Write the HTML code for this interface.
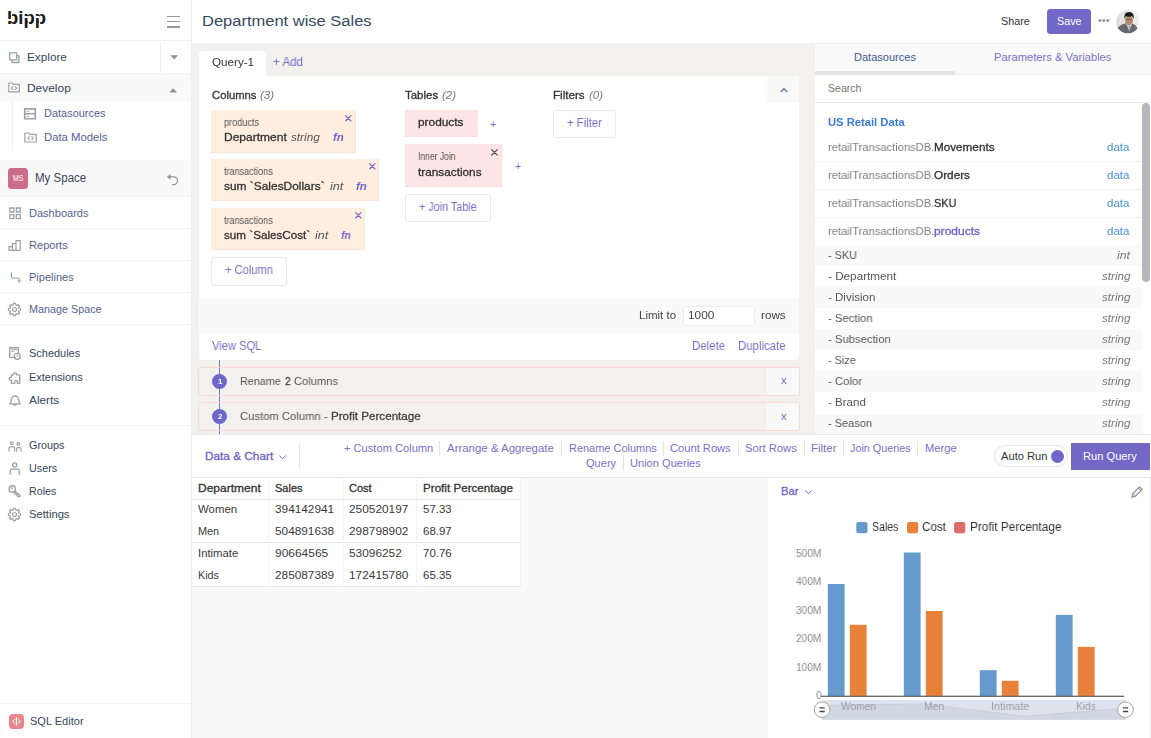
<!DOCTYPE html>
<html lang="en"><head><meta charset="utf-8"><title>Department wise Sales - bipp</title>
<style>
html,body{margin:0;padding:0;}
body{width:1151px;height:738px;overflow:hidden;background:#fff;font-family:"Liberation Sans",Arial,Helvetica,sans-serif;font-size:12px;color:#333;}
#app{position:relative;width:1151px;height:738px;overflow:hidden;background:#fff;}
.a{position:absolute;box-sizing:border-box;}
.t{position:absolute;white-space:pre;display:block;transform-origin:0 50%;}
svg{position:absolute;overflow:visible;}
i.m{display:inline-block;width:0;height:0;vertical-align:baseline;}
.g{will-change:transform;}

</style></head>
<body>
<div id="app">
<div class="a" style="left:191.6px;top:0px;width:959.4px;height:44px;background:#fff;border-bottom:1px solid #eef0f3;"></div>
<div class="a" style="left:191.6px;top:44px;width:623.4px;height:391px;background:#f2f1ee;"></div>
<div class="a" style="left:814.4px;top:44px;width:336.6px;height:391px;background:#fff;border-left:1px solid #eceeef;"></div>
<div class="a" style="left:191.6px;top:434px;width:959.4px;height:44px;background:#fff;border-top:1px solid #e9e9e9;border-bottom:1px solid #e4e4e4;"></div>
<div class="a" style="left:191.6px;top:478px;width:576.4px;height:260px;background:#f9f9f9;"></div>
<div class="a" style="left:767.7px;top:478px;width:382.3px;height:260px;background:#fff;"></div>
<div class="a" style="left:1150px;top:478px;width:1px;height:260px;background:#eceef2;"></div>
<div class="a" style="left:0px;top:0px;width:191.6px;height:738px;background:#fff;border-right:1px solid #eceef2;"></div>
<div class="a" style="left:0px;top:40px;width:190.6px;height:1px;background:#eef0f2;"></div>
<div class="a" style="left:160px;top:42px;width:1px;height:31px;background:#eceef0;"></div>
<div class="a" style="left:0px;top:73px;width:190.6px;height:1px;background:#f3f3f3;"></div>
<div class="a" style="left:0px;top:73.5px;width:190.6px;height:27.5px;background:#f9f9f9;"></div>
<div class="a" style="left:12px;top:102px;width:1px;height:49px;background:#efeff3;"></div>
<div class="a" style="left:0px;top:160px;width:190.6px;height:36.5px;background:#f9f9f9;border-bottom:1px solid #f1f1f1;"></div>
<div class="a" style="left:0px;top:228px;width:190.6px;height:1px;background:#f4f4f4;"></div>
<div class="a" style="left:0px;top:260px;width:190.6px;height:1px;background:#f4f4f4;"></div>
<div class="a" style="left:0px;top:292px;width:190.6px;height:1px;background:#f4f4f4;"></div>
<div class="a" style="left:0px;top:324px;width:190.6px;height:1px;background:#f4f4f4;"></div>
<div class="a" style="left:0px;top:425px;width:190.6px;height:1px;background:#f4f4f4;"></div>
<div class="a" style="left:0px;top:702.5px;width:190.6px;height:1px;background:#f4f4f4;"></div>
<div class="a" style="left:166.8px;top:15.6px;width:13.2px;height:1.6px;background:#8f999f;"></div>
<div class="a" style="left:166.8px;top:20.8px;width:13.2px;height:1.6px;background:#8f999f;"></div>
<div class="a" style="left:166.8px;top:26px;width:13.2px;height:1.6px;background:#8f999f;"></div>
<svg style="left:170px;top:55px" width="9" height="5" viewBox="0 0 9 5"><path d="M0.3 0.2h7.8L4.2 4.4z" fill="#8a949a"/></svg>
<svg style="left:169px;top:87.5px" width="9" height="5" viewBox="0 0 9 5"><path d="M0.3 4.4h7.8L4.2 0.2z" fill="#8a949a"/></svg>
<svg style="left:8px;top:51px" width="12" height="12" viewBox="0 0 12 12" fill="none" stroke="#9ca4a9" stroke-width="1.35" stroke-linecap="round" stroke-linejoin="round"><path d="M1.6 1.8h7v7h-7z" stroke-linejoin="miter"/><path d="M4.2 9v2.5h6.6v-6.8H8.8" stroke-linejoin="miter"/></svg>
<svg style="left:8px;top:82px" width="12" height="11" viewBox="0 0 12 11" fill="none" stroke="#9ca4a9" stroke-width="1.2" stroke-linecap="round" stroke-linejoin="round"><path d="M0.8 1h3.6l1 1.4h5.9v7.4H0.8z" stroke-linejoin="miter"/><path d="M4.9 4.6L3.5 6.1l1.4 1.5M7.2 4.6l1.4 1.5-1.4 1.5" stroke-width="1.15"/></svg>
<svg style="left:24px;top:108px" width="12" height="12" viewBox="0 0 12 12" fill="none" stroke="#9ca4a9" stroke-width="1.35" stroke-linecap="round" stroke-linejoin="round"><path d="M0.7 0.9h10.6v4.9H0.7zM0.7 5.8h10.6v5H0.7z" stroke-linejoin="miter" stroke-width="1.6"/><path d="M2.6 3.3h0.6M4.3 3.3h0.6M2.6 8.3h0.6M4.3 8.3h0.6" stroke-width="0.9"/></svg>
<svg style="left:23.6px;top:132.3px" width="13" height="11" viewBox="0 0 13 11" fill="none" stroke="#9ca4a9" stroke-width="1.2" stroke-linecap="round" stroke-linejoin="round"><path d="M0.8 1h3.9l1 1.4h6.5v7.6H0.8z" stroke-linejoin="miter"/><path d="M5.3 4.7L3.9 6.2l1.4 1.5M7.8 4.7l1.4 1.5-1.4 1.5" stroke-width="1.15"/></svg>
<div class="a" style="left:7.8px;top:168.3px;width:20.4px;height:21px;background:#cb6c88;border-radius:3.5px;"></div>
<svg style="left:166px;top:173px" width="13" height="13" viewBox="0 0 13 13" fill="none" stroke="#8a949a" stroke-width="1.2" stroke-linecap="round" stroke-linejoin="round"><path d="M2 3.9h5.6a3.9 3.9 0 0 1 0 7.8H6.6" stroke-width="1.2"/><path d="M3.9 1.8L1.6 3.9l2.3 2.1z" fill="#8a949a" stroke="#8a949a" stroke-width="0.8"/></svg>
<svg style="left:9px;top:207px" width="12" height="12" viewBox="0 0 12 12" fill="none" stroke="#9ca4a9" stroke-width="1.35" stroke-linecap="round" stroke-linejoin="round"><path d="M0.8 1h4v4h-4zM7.3 1h4v4h-4zM0.8 7.6h4v4h-4zM7.3 7.6h4v4h-4z" stroke-linejoin="miter" stroke-width="1.3"/></svg>
<svg style="left:8px;top:240px" width="13" height="11" viewBox="0 0 13 11" fill="none" stroke="#9ca4a9" stroke-width="1.35" stroke-linecap="round" stroke-linejoin="round"><path d="M1 6.6h3.4v3.8H1zM4.4 3.6h3.6v6.8H4.4zM8 0.7h4.2v9.7H8z" stroke-linejoin="miter" stroke-width="1.2"/></svg>
<svg style="left:9.5px;top:271.5px" width="11" height="11" viewBox="0 0 11 11" fill="none" stroke="#9ca4a9" stroke-width="1.2" stroke-linecap="round" stroke-linejoin="round"><path d="M1.4 0.8v3.6q0 1.6 1.6 1.6h4.6q1.6 0 1.6 1.6v2.4"/><path d="M7.8 8.6l1.4 1.6 1.3-1.6" stroke-width="0.9"/></svg>
<svg style="left:8.1px;top:302.8px" width="13" height="13" viewBox="0 0 13 13" fill="none" stroke="#9ca4a9" stroke-width="1.35" stroke-linecap="round" stroke-linejoin="round"><path d="M11.02 5.22L12.52 5.50L12.52 7.50L11.02 7.78L10.60 8.80L11.46 10.05L10.05 11.46L8.80 10.60L7.78 11.02L7.50 12.52L5.50 12.52L5.22 11.02L4.20 10.60L2.95 11.46L1.54 10.05L2.40 8.80L1.98 7.78L0.48 7.50L0.48 5.50L1.98 5.22L2.40 4.20L1.54 2.95L2.95 1.54L4.20 2.40L5.22 1.98L5.50 0.48L7.50 0.48L7.78 1.98L8.80 2.40L10.05 1.54L11.46 2.95L10.60 4.20z" stroke-width="1.25"/><circle cx="6.5" cy="6.5" r="2" stroke-width="1.2"/></svg>
<svg style="left:9px;top:347px" width="12" height="13" viewBox="0 0 12 13" fill="none" stroke="#9ca4a9" stroke-width="1.35" stroke-linecap="round" stroke-linejoin="round"><path d="M6.2 10.4H0.7V0.7h8.6v5" stroke-linejoin="miter"/><path d="M2.3 2.6h5.4M2.3 4.3h3" stroke-width="0.9"/><circle cx="8.2" cy="9.3" r="3"/><path d="M8.2 7.9v1.5h1.1" stroke-width="0.8"/></svg>
<svg style="left:8.2px;top:371px" width="13" height="13" viewBox="0 0 13 13" fill="none" stroke="#9ca4a9" stroke-width="1.35" stroke-linecap="round" stroke-linejoin="round"><path d="M3.4 3.8h2.4V2.9a1.3 1.3 0 1 1 2.6 0v0.9h3.3v8.5H9.3V10.6a1.3 1.3 0 1 0 -2.6 0v1.7H3.4V9.2H2.5a1.4 1.4 0 1 1 0 -2.8h0.9z"/></svg>
<svg style="left:9px;top:394px" width="12" height="13" viewBox="0 0 12 13" fill="none" stroke="#9ca4a9" stroke-width="1.35" stroke-linecap="round" stroke-linejoin="round"><path d="M0.8 9.9h10.4c-1.3 -1 -1.6 -2.3 -1.6 -4.3a3.6 3.6 0 0 0 -7.2 0c0 2 -0.3 3.3 -1.6 4.3z"/><path d="M4.6 10.3a1.5 1.5 0 0 0 2.8 0"/></svg>
<svg style="left:8px;top:440.5px" width="14" height="11" viewBox="0 0 14 11" fill="none" stroke="#9ca4a9" stroke-width="1.2" stroke-linecap="round" stroke-linejoin="round"><circle cx="3.8" cy="2.2" r="1.4"/><path d="M1 10.2V7.2q0 -1.4 1.4 -1.4h2.8q1.4 0 1.4 1.4v3"/><circle cx="10.3" cy="3" r="1.3"/><path d="M8.6 10.2V8q0 -1.3 1.3 -1.3h1.8q1.3 0 1.3 1.3v2.2"/></svg>
<svg style="left:9px;top:462px" width="12" height="13" viewBox="0 0 12 13" fill="none" stroke="#9ca4a9" stroke-width="1.3" stroke-linecap="round" stroke-linejoin="round"><circle cx="5.7" cy="3" r="2.1"/><path d="M1.2 12.4V8.6q0 -1.4 1.4 -1.4h6.2q1.4 0 1.4 1.4v3.8"/></svg>
<svg style="left:8px;top:485px" width="13" height="12" viewBox="0 0 13 12" fill="none" stroke="#9ca4a9" stroke-width="1.35" stroke-linecap="round" stroke-linejoin="round"><circle cx="4.2" cy="3.9" r="3.2"/><circle cx="3.5" cy="3.2" r="0.9" stroke-width="0.8"/><path d="M6.5 6.1l5.4 4.3v1.1h-2l-0.9 -0.9v-1h-1.1L6.5 8.4 5.4 7"/></svg>
<svg style="left:8.2px;top:508.4px" width="13" height="13" viewBox="0 0 13 13" fill="none" stroke="#9ca4a9" stroke-width="1.35" stroke-linecap="round" stroke-linejoin="round"><path d="M11.02 5.22L12.52 5.50L12.52 7.50L11.02 7.78L10.60 8.80L11.46 10.05L10.05 11.46L8.80 10.60L7.78 11.02L7.50 12.52L5.50 12.52L5.22 11.02L4.20 10.60L2.95 11.46L1.54 10.05L2.40 8.80L1.98 7.78L0.48 7.50L0.48 5.50L1.98 5.22L2.40 4.20L1.54 2.95L2.95 1.54L4.20 2.40L5.22 1.98L5.50 0.48L7.50 0.48L7.78 1.98L8.80 2.40L10.05 1.54L11.46 2.95L10.60 4.20z" stroke-width="1.25"/><circle cx="6.5" cy="6.5" r="2" stroke-width="1.2"/></svg>
<div class="a" style="left:9.1px;top:714.2px;width:14.8px;height:14.6px;background:#e8878a;border-radius:3.8px;"></div>
<svg style="left:9.1px;top:714.2px" width="15" height="15" viewBox="0 0 15 15" fill="none" stroke="#fff" stroke-width="1" stroke-linecap="round" stroke-linejoin="round"><path d="M7.4 3.6v7.6" stroke-width="1.2"/><path d="M5.5 5.5L3.6 7.4l1.9 1.9M9.3 5.5l1.9 1.9-1.9 1.9" stroke-width="1"/></svg>
<div class="a" style="left:7.5px;top:19.0px;width:4.6px;height:2.0px;background:#fff;z-index:3;"></div>
<div class="a" style="left:10.9px;top:13.4px;width:1.5px;height:5.8px;background:#fff;z-index:3;"></div>
<div class="a" style="left:24.4px;top:16.3px;width:3.4px;height:2.2px;background:#fff;z-index:3;"></div>
<div class="a" style="left:27.7px;top:18.4px;width:1.6px;height:6.0px;background:#fff;z-index:3;"></div>
<div class="a" style="left:35.4px;top:16.3px;width:3.4px;height:2.2px;background:#fff;z-index:3;"></div>
<div class="a" style="left:38.7px;top:18.4px;width:1.6px;height:6.0px;background:#fff;z-index:3;"></div>
<div class="a" style="left:1046.9px;top:9.4px;width:44px;height:24.2px;background:#7168c8;border-radius:3.5px;"></div>
<svg style="left:1116.4px;top:9.7px" width="23.6" height="23.6" viewBox="0 0 23.6 23.6"><defs><clipPath id="av"><circle cx="11.8" cy="11.8" r="11.7"/></clipPath><linearGradient id="avg" x1="0" y1="0" x2="1" y2="0"><stop offset="0" stop-color="#dcdcdc"/><stop offset="1" stop-color="#f1f1f1"/></linearGradient></defs><g clip-path="url(#av)"><rect width="23.6" height="23.6" fill="url(#avg)"/><path d="M0 23.6L1.6 17.6Q5.5 14 9.4 13.2L13 18L16.4 13.6Q20 14.8 21.4 18L23.6 23.6z" fill="#68686e"/><path d="M10.6 14.2L13.4 21.5L15.4 14.2z" fill="#d5d6db"/><path d="M12.7 16L13.5 21.8L14.2 16z" fill="#9a9aa2"/><ellipse cx="13" cy="10.6" rx="3.9" ry="4.7" fill="#b58868"/><path d="M8.4 9.2Q7.6 2 13 2Q18.600 2 17.700 9.200Q17 6.600 15.800 6.200Q12.500 7.200 10 6.200Q9 7 8.400 9.200z" fill="#1b1917"/><path d="M9.7 9.6h6.400" stroke="#3a2f2a" stroke-width="0.7" opacity="0.7"/></g></svg>
<div class="a" style="left:198.5px;top:50.5px;width:67.7px;height:26px;background:#fff;border-radius:4px 4px 0 0;"></div>
<div class="a" style="left:198.5px;top:76px;width:600.8px;height:284px;background:#fff;border-radius:0 0 4px 4px;"></div>
<div class="a" style="left:766.8px;top:76px;width:32.4px;height:26.8px;background:#f9f9f9;"></div>
<svg style="left:779.5px;top:87px" width="8" height="6" viewBox="0 0 8 6" fill="none" stroke="#4f76a8" stroke-width="1.3" stroke-linecap="round" stroke-linejoin="round"><path d="M1 4.8l3 -3.200l3 3.200"/></svg>
<div class="a" style="left:211px;top:110px;width:144.8px;height:42.5px;background:#ffeee0;border-right:1px solid #fee3da;border-bottom:1px solid #fee0d8;"></div>
<svg style="left:345.4px;top:114.6px" width="6.6" height="6.6" viewBox="0 0 6.6 6.6" fill="none" stroke="#6f66c9" stroke-width="1.1" stroke-linecap="round" stroke-linejoin="round"><path d="M0.6 0.6L6.0 6.0M6.0 0.6L0.6 6.0"/></svg>
<div class="a" style="left:211px;top:159.2px;width:167.9px;height:42.1px;background:#ffeee0;border-right:1px solid #fee3da;border-bottom:1px solid #fee0d8;"></div>
<svg style="left:368.5px;top:163.2px" width="6.6" height="6.6" viewBox="0 0 6.6 6.6" fill="none" stroke="#6f66c9" stroke-width="1.1" stroke-linecap="round" stroke-linejoin="round"><path d="M0.6 0.6L6.0 6.0M6.0 0.6L0.6 6.0"/></svg>
<div class="a" style="left:211px;top:208.2px;width:153.9px;height:41.6px;background:#ffeee0;border-right:1px solid #fee3da;border-bottom:1px solid #fee0d8;"></div>
<svg style="left:354.5px;top:212.0px" width="6.6" height="6.6" viewBox="0 0 6.6 6.6" fill="none" stroke="#6f66c9" stroke-width="1.1" stroke-linecap="round" stroke-linejoin="round"><path d="M0.6 0.6L6.0 6.0M6.0 0.6L0.6 6.0"/></svg>
<div class="a" style="left:211.3px;top:257.3px;width:75.8px;height:28.8px;background:#fff;border:1px solid #e9eaed;border-radius:3px;"></div>
<div class="a" style="left:405px;top:109.7px;width:72.6px;height:27.6px;background:#ffe5e5;border-bottom:1px solid #fddcdc;"></div>
<div class="a" style="left:405px;top:144.2px;width:96.7px;height:42.5px;background:#ffe5e5;border-bottom:1px solid #fddcdc;border-right:1px solid #fddcdc;"></div>
<svg style="left:491.0px;top:148.9px" width="6.8" height="6.8" viewBox="0 0 6.8 6.8" fill="none" stroke="#444" stroke-width="1.1" stroke-linecap="round" stroke-linejoin="round"><path d="M0.6 0.6L6.2 6.2M6.2 0.6L0.6 6.2"/></svg>
<div class="a" style="left:405px;top:193.5px;width:85.8px;height:28.8px;background:#fff;border:1px solid #e9eaed;border-radius:3px;"></div>
<div class="a" style="left:553.4px;top:109.5px;width:62.7px;height:28.8px;background:#fff;border:1px solid #e9eaed;border-radius:3px;"></div>
<div class="a" style="left:198.5px;top:298.6px;width:600.8px;height:34.1px;background:#f9f9f9;"></div>
<div class="a" style="left:683.2px;top:305.6px;width:71.6px;height:20.6px;background:#fff;border:1px solid #ececec;border-radius:2px;"></div>
<div class="a" style="left:219.3px;top:360px;width:1.1px;height:74px;background:#7b73ce;"></div>
<div class="a" style="left:198.4px;top:367.1px;width:601.2px;height:29.0px;border:1px solid #fcd9d9;border-radius:2px;"></div>
<div class="a" style="left:767px;top:368.1px;width:31.6px;height:27.0px;background:#f9f9f9;"></div>
<div class="a" style="left:219.3px;top:368.1px;width:1.1px;height:27.0px;background:#7b73ce;"></div>
<div class="a" style="left:212.2px;top:373.59999999999997px;width:15.2px;height:15.2px;background:#6f66c9;border-radius:50%;"></div>
<div class="a" style="left:198.4px;top:402.3px;width:601.2px;height:28.80000000000001px;border:1px solid #fcd9d9;border-radius:2px;"></div>
<div class="a" style="left:767px;top:403.3px;width:31.6px;height:26.80000000000001px;background:#f9f9f9;"></div>
<div class="a" style="left:219.3px;top:403.3px;width:1.1px;height:26.80000000000001px;background:#7b73ce;"></div>
<div class="a" style="left:212.2px;top:408.79999999999995px;width:15.2px;height:15.2px;background:#6f66c9;border-radius:50%;"></div>
<div class="a" style="left:815.4px;top:44px;width:335.6px;height:30.6px;background:#fafafa;border-bottom:1px solid #ebeced;"></div>
<div class="a" style="left:815.4px;top:71.1px;width:139.4px;height:3.5px;background:#e1e5e7;"></div>
<div class="a" style="left:815px;top:102px;width:336px;height:1px;background:#e6eaec;"></div>
<div class="a" style="left:815px;top:160.5px;width:327px;height:1.5px;background:#eceff0;"></div>
<div class="a" style="left:815px;top:188.5px;width:327px;height:1.5px;background:#eceff0;"></div>
<div class="a" style="left:815px;top:216.6px;width:327px;height:1.5px;background:#eceff0;"></div>
<div class="a" style="left:815px;top:245.3px;width:327px;height:21.03px;background:#f9f9f9;"></div>
<div class="a" style="left:815px;top:287.36px;width:327px;height:21.03px;background:#f9f9f9;"></div>
<div class="a" style="left:815px;top:329.42px;width:327px;height:21.03px;background:#f9f9f9;"></div>
<div class="a" style="left:815px;top:371.48px;width:327px;height:21.03px;background:#f9f9f9;"></div>
<div class="a" style="left:815px;top:413.54px;width:327px;height:20.45999999999998px;background:#f9f9f9;"></div>
<div class="a" style="left:1142.2px;top:103.4px;width:7.4px;height:179px;background:#b9b7be;border-radius:4px;"></div>
<svg style="left:279.4px;top:454.5px" width="7" height="5" viewBox="0 0 7 5" fill="none" stroke="#6c63c8" stroke-width="1" stroke-linecap="round" stroke-linejoin="round"><path d="M0.600 0.800l2.900 3l2.900 -3"/></svg>
<div class="a" style="left:299px;top:443.4px;width:1px;height:26px;background:#e6e6e6;"></div>
<div class="a" style="left:439.2px;top:440.6px;width:1px;height:15px;background:#fcdada;"></div>
<div class="a" style="left:560.9px;top:440.6px;width:1px;height:15px;background:#fcdada;"></div>
<div class="a" style="left:662.8px;top:440.6px;width:1px;height:15px;background:#fcdada;"></div>
<div class="a" style="left:737.9px;top:440.6px;width:1px;height:15px;background:#fcdada;"></div>
<div class="a" style="left:803.7px;top:440.6px;width:1px;height:15px;background:#fcdada;"></div>
<div class="a" style="left:843.0px;top:440.6px;width:1px;height:15px;background:#fcdada;"></div>
<div class="a" style="left:917.0px;top:440.6px;width:1px;height:15px;background:#fcdada;"></div>
<div class="a" style="left:622.7px;top:455.6px;width:1px;height:15px;background:#fcdada;"></div>
<div class="a" style="left:994.2px;top:445px;width:73.6px;height:21.7px;background:#fff;border:1px solid #e6e6e6;border-radius:11px;"></div>
<div class="a" style="left:1050.8px;top:450px;width:13px;height:13px;background:#6f66c9;border-radius:50%;"></div>
<div class="a" style="left:1071px;top:443px;width:78.6px;height:26.7px;background:#7368c6;"></div>
<div class="a" style="left:192px;top:478px;width:328px;height:109px;background:#fff;"></div>
<div class="a" style="left:192px;top:498.5px;width:328px;height:1px;background:#e7e7e7;"></div>
<div class="a" style="left:192px;top:541.8px;width:328px;height:1px;background:#e7e7e7;"></div>
<div class="a" style="left:192px;top:586.2px;width:328px;height:1px;background:#e7e7e7;"></div>
<div class="a" style="left:267.8px;top:478px;width:0;height:109px;border-left:1px dotted #e9e9e9;"></div>
<div class="a" style="left:342.5px;top:478px;width:0;height:109px;border-left:1px dotted #e9e9e9;"></div>
<div class="a" style="left:415.8px;top:478px;width:0;height:109px;border-left:1px dotted #e9e9e9;"></div>
<div class="a" style="left:519.6px;top:478px;width:0;height:109px;border-left:1px dotted #e9e9e9;"></div>
<svg style="left:804.6px;top:489.6px" width="7" height="5" viewBox="0 0 7 5" fill="none" stroke="#6c63c8" stroke-width="1" stroke-linecap="round" stroke-linejoin="round"><path d="M0.600 0.800l2.900 3l2.900 -3"/></svg>
<svg style="left:1130.5px;top:485.5px" width="12" height="12" viewBox="0 0 12 12" fill="none" stroke="#8d969b" stroke-width="1.3" stroke-linecap="round" stroke-linejoin="round"><path d="M1 11l0.900 -3.400l6.600 -6.600l2.500 2.500l-6.600 6.600z" stroke-linejoin="miter"/><path d="M1.900 7.600l2.500 2.500M7.300 2.200l2.500 2.500" stroke-width="1"/></svg>
<svg style="left:767px;top:500px" width="380" height="238" viewBox="767 500 380 238"><rect x="856.3" y="521.9" width="11.2" height="11.4" rx="2.200" fill="#6699cc"/><rect x="907.0" y="521.9" width="11.2" height="11.4" rx="2.200" fill="#e8813a"/><rect x="954.1" y="521.9" width="11.2" height="11.4" rx="2.200" fill="#dd6b66"/><rect x="827.8" y="584.0" width="16.8" height="111.9" fill="#6699cc"/><rect x="849.8" y="624.8" width="16.8" height="71.1" fill="#e8813a"/><rect x="903.8" y="552.5" width="16.8" height="143.4" fill="#6699cc"/><rect x="925.8" y="611.0" width="16.8" height="84.9" fill="#e8813a"/><rect x="979.8" y="670.2" width="16.8" height="25.7" fill="#6699cc"/><rect x="1001.8" y="680.8" width="16.8" height="15.1" fill="#e8813a"/><rect x="1055.8" y="614.9" width="16.8" height="81.0" fill="#6699cc"/><rect x="1077.8" y="646.9" width="16.8" height="49.0" fill="#e8813a"/><rect x="821" y="695.6999999999999" width="303.2" height="1.1" fill="#4a4a4a"/><rect x="822.1" y="699.9" width="303.4" height="19.8" fill="#dde3ec"/><path d="M822.1 705.4L923.2 703.9L1024.300 716.3L1125.500 708.3V719.7H822.1z" fill="#cfd7e2"/><path d="M822.1 705.4L923.2 703.9L1024.300 716.3L1125.500 708.3" fill="none" stroke="#c3ccd9" stroke-width="0.8"/><circle cx="822.1" cy="709.7" r="7.8" fill="#fff" stroke="#a3a3a3" stroke-width="1"/><path d="M819.5 707.9h5.2M819.5 711.5h5.2" stroke="#444" stroke-width="1.3"/><circle cx="1125.5" cy="709.7" r="7.8" fill="#fff" stroke="#a3a3a3" stroke-width="1"/><path d="M1122.9 707.9h5.2M1122.9 711.5h5.2" stroke="#444" stroke-width="1.3"/></svg>
<span class="t" style="left:7.0px;top:6.00px;font-size:18px;line-height:25px;color:#1a1a1a;font-weight:700;transform:scaleX(1.024);">bipp</span>
<span class="t" style="left:27.4px;top:49.00px;font-size:11.5px;line-height:16px;color:#36465a;transform:scaleX(1.023);">Explore</span>
<span class="t" style="left:27.4px;top:80.00px;font-size:11.5px;line-height:16px;color:#36465a;transform:scaleX(1.038);">Develop</span>
<span class="t" style="left:43.8px;top:105.00px;font-size:11.5px;line-height:16px;color:#55638f;transform:scaleX(0.953);">Datasources</span>
<span class="t" style="left:43.8px;top:129.00px;font-size:11.5px;line-height:16px;color:#55638f;transform:scaleX(0.984);">Data Models</span>
<span class="t" style="left:12.9px;top:172.00px;font-size:8.5px;line-height:12px;color:#fff;transform:scaleX(0.816);">MS</span>
<span class="t" style="left:35.2px;top:169.00px;font-size:12.5px;line-height:18px;color:#36465a;transform:scaleX(0.921);">My Space</span>
<span class="t" style="left:29.1px;top:205.00px;font-size:11.5px;line-height:16px;color:#55638f;transform:scaleX(0.959);">Dashboards</span>
<span class="t" style="left:29.1px;top:237.00px;font-size:11.5px;line-height:16px;color:#55638f;transform:scaleX(0.961);">Reports</span>
<span class="t" style="left:29.1px;top:269.00px;font-size:11.5px;line-height:16px;color:#55638f;transform:scaleX(0.958);">Pipelines</span>
<span class="t" style="left:29.1px;top:301.00px;font-size:11.5px;line-height:16px;color:#55638f;transform:scaleX(0.938);">Manage Space</span>
<span class="t" style="left:28.8px;top:345.00px;font-size:11.5px;line-height:16px;color:#36465a;transform:scaleX(0.953);">Schedules</span>
<span class="t" style="left:28.8px;top:369.00px;font-size:11.5px;line-height:16px;color:#36465a;transform:scaleX(0.953);">Extensions</span>
<span class="t" style="left:28.8px;top:392.00px;font-size:11.5px;line-height:16px;color:#36465a;transform:scaleX(1.027);">Alerts</span>
<span class="t" style="left:28.8px;top:437.00px;font-size:11.5px;line-height:16px;color:#36465a;transform:scaleX(0.941);">Groups</span>
<span class="t" style="left:28.8px;top:460.00px;font-size:11.5px;line-height:16px;color:#36465a;transform:scaleX(0.936);">Users</span>
<span class="t" style="left:28.8px;top:483.00px;font-size:11.5px;line-height:16px;color:#36465a;transform:scaleX(0.928);">Roles</span>
<span class="t" style="left:28.8px;top:506.00px;font-size:11.5px;line-height:16px;color:#36465a;transform:scaleX(0.974);">Settings</span>
<span class="t" style="left:30.2px;top:713.00px;font-size:11.5px;line-height:16px;color:#36465a;transform:scaleX(0.960);">SQL Editor</span>
<span class="t" style="left:202.0px;top:10.00px;font-size:15.5px;line-height:22px;color:#34495e;transform:scaleX(1.064);">Department wise Sales</span>
<span class="t" style="left:1000.6px;top:13.00px;font-size:11.5px;line-height:16px;color:#333;transform:scaleX(0.935);">Share</span>
<span class="t" style="left:1056.8px;top:13.00px;font-size:11.5px;line-height:16px;color:#fff;transform:scaleX(0.938);">Save</span>
<span class="t" style="left:1098.4px;top:13.00px;font-size:11px;line-height:15px;color:#8f94a3;transform:scaleX(0.995);">•••</span>
<span class="t g" style="left:211.7px;top:54.00px;font-size:11.5px;line-height:16px;color:#333;transform:scaleX(1.013);">Query-1</span>
<span class="t g" style="left:273.2px;top:54.00px;font-size:12px;line-height:17px;color:#766dcb;transform:scaleX(0.970);">+ Add</span>
<span class="t g" style="left:211.7px;top:88.00px;font-size:11px;line-height:15px;color:#333;-webkit-text-stroke:0.3px currentColor;transform:scaleX(1.025);">Columns</span>
<span class="t g" style="left:260.0px;top:87.00px;font-size:11.5px;line-height:16px;color:#777;font-style:italic;transform:scaleX(1.010);">(3)</span>
<span class="t g" style="left:405.4px;top:88.00px;font-size:11px;line-height:15px;color:#333;-webkit-text-stroke:0.3px currentColor;transform:scaleX(1.041);">Tables</span>
<span class="t g" style="left:442.3px;top:87.00px;font-size:11.5px;line-height:16px;color:#777;font-style:italic;transform:scaleX(0.988);">(2)</span>
<span class="t g" style="left:553.4px;top:88.00px;font-size:11px;line-height:15px;color:#333;-webkit-text-stroke:0.3px currentColor;transform:scaleX(1.058);">Filters</span>
<span class="t g" style="left:589.0px;top:87.00px;font-size:11.5px;line-height:16px;color:#777;font-style:italic;transform:scaleX(0.996);">(0)</span>
<span class="t g" style="left:224.1px;top:116.00px;font-size:10px;line-height:14px;color:#555;transform:scaleX(0.915);">products</span>
<span class="t g" style="left:224.1px;top:130.00px;font-size:11px;line-height:15px;color:#333;-webkit-text-stroke:0.3px currentColor;transform:scaleX(1.092);">Department</span>
<span class="t g" style="left:291.3px;top:129.00px;font-size:11.5px;line-height:16px;color:#555;font-style:italic;transform:scaleX(1.020);">string</span>
<span class="t g" style="left:332.8px;top:129.00px;font-size:11.5px;line-height:16px;color:#6f66c9;font-weight:700;font-style:italic;transform:scaleX(0.976);">fn</span>
<span class="t g" style="left:224.1px;top:165.00px;font-size:10px;line-height:14px;color:#555;transform:scaleX(0.903);">transactions</span>
<span class="t g" style="left:224.1px;top:179.00px;font-size:11px;line-height:15px;color:#333;-webkit-text-stroke:0.3px currentColor;transform:scaleX(1.083);">sum `SalesDollars`</span>
<span class="t g" style="left:330.0px;top:178.00px;font-size:11.5px;line-height:16px;color:#555;font-style:italic;transform:scaleX(1.102);">int</span>
<span class="t g" style="left:356.0px;top:178.00px;font-size:11.5px;line-height:16px;color:#6f66c9;font-weight:700;font-style:italic;transform:scaleX(0.967);">fn</span>
<span class="t g" style="left:224.1px;top:214.00px;font-size:10px;line-height:14px;color:#555;transform:scaleX(0.903);">transactions</span>
<span class="t g" style="left:224.1px;top:228.00px;font-size:11px;line-height:15px;color:#333;-webkit-text-stroke:0.3px currentColor;transform:scaleX(1.060);">sum `SalesCost`</span>
<span class="t g" style="left:315.3px;top:227.00px;font-size:11.5px;line-height:16px;color:#555;font-style:italic;transform:scaleX(1.078);">int</span>
<span class="t g" style="left:341.4px;top:227.00px;font-size:11.5px;line-height:16px;color:#6f66c9;font-weight:700;font-style:italic;transform:scaleX(0.921);">fn</span>
<span class="t g" style="left:225.1px;top:262.00px;font-size:12px;line-height:17px;color:#766dcb;transform:scaleX(0.928);">+ Column</span>
<span class="t g" style="left:417.7px;top:115.00px;font-size:11px;line-height:15px;color:#333;-webkit-text-stroke:0.3px currentColor;transform:scaleX(1.078);">products</span>
<span class="t g" style="left:490.3px;top:116.00px;font-size:11.5px;line-height:16px;color:#766dcb;transform:scaleX(0.920);">+</span>
<span class="t g" style="left:417.7px;top:150.00px;font-size:10px;line-height:14px;color:#555;transform:scaleX(0.854);">Inner Join</span>
<span class="t g" style="left:417.7px;top:165.00px;font-size:11px;line-height:15px;color:#333;-webkit-text-stroke:0.3px currentColor;transform:scaleX(1.071);">transactions</span>
<span class="t g" style="left:514.7px;top:158.00px;font-size:11.5px;line-height:16px;color:#766dcb;transform:scaleX(0.920);">+</span>
<span class="t g" style="left:419.1px;top:199.00px;font-size:12px;line-height:17px;color:#766dcb;transform:scaleX(0.899);">+ Join Table</span>
<span class="t g" style="left:567.1px;top:115.00px;font-size:12px;line-height:17px;color:#766dcb;transform:scaleX(0.946);">+ Filter</span>
<span class="t g" style="left:639.1px;top:307.00px;font-size:11.5px;line-height:16px;color:#444;transform:scaleX(1.001);">Limit to</span>
<span class="t g" style="left:687.6px;top:307.00px;font-size:11.5px;line-height:16px;color:#444;transform:scaleX(1.028);">1000</span>
<span class="t g" style="left:761.4px;top:307.00px;font-size:11.5px;line-height:16px;color:#444;transform:scaleX(1.017);">rows</span>
<span class="t g" style="left:211.5px;top:338.00px;font-size:12px;line-height:17px;color:#766dcb;transform:scaleX(0.928);">View SQL</span>
<span class="t g" style="left:692.2px;top:338.00px;font-size:12px;line-height:17px;color:#766dcb;transform:scaleX(0.954);">Delete</span>
<span class="t g" style="left:738.4px;top:338.00px;font-size:12px;line-height:17px;color:#766dcb;transform:scaleX(0.953);">Duplicate</span>
<span class="t g" style="left:217.6px;top:376.00px;font-size:8px;line-height:11px;color:#fff;font-weight:700;transform:scaleX(0.920);">1</span>
<span class="t g" style="left:217.6px;top:411.00px;font-size:8px;line-height:11px;color:#fff;font-weight:700;transform:scaleX(0.920);">2</span>
<span class="t g" style="left:239.8px;top:373.00px;font-size:11.5px;line-height:16px;color:#555;transform:scaleX(0.939);">Rename</span>
<span class="t g" style="left:284.6px;top:374.00px;font-size:11px;line-height:15px;color:#444;-webkit-text-stroke:0.3px currentColor;transform:scaleX(0.920);">2</span>
<span class="t g" style="left:293.9px;top:373.00px;font-size:11.5px;line-height:16px;color:#555;transform:scaleX(0.967);">Columns</span>
<span class="t g" style="left:239.8px;top:408.00px;font-size:11.5px;line-height:16px;color:#555;transform:scaleX(0.979);">Custom Column -</span>
<span class="t g" style="left:331.4px;top:409.00px;font-size:11px;line-height:15px;color:#444;-webkit-text-stroke:0.3px currentColor;transform:scaleX(1.055);">Profit Percentage</span>
<span class="t g" style="left:780.5px;top:372.00px;font-size:11.5px;line-height:16px;color:#766dcb;transform:scaleX(0.920);">x</span>
<span class="t g" style="left:780.5px;top:408.00px;font-size:11.5px;line-height:16px;color:#766dcb;transform:scaleX(0.920);">x</span>
<span class="t" style="left:853.7px;top:49.00px;font-size:11.5px;line-height:16px;color:#3f5896;transform:scaleX(0.960);">Datasources</span>
<span class="t" style="left:993.6px;top:49.00px;font-size:11.5px;line-height:16px;color:#7a70cb;transform:scaleX(0.974);">Parameters &amp; Variables</span>
<span class="t" style="left:827.7px;top:80.00px;font-size:11.5px;line-height:16px;color:#777;transform:scaleX(0.919);">Search</span>
<span class="t g" style="left:827.7px;top:115.00px;font-size:11px;line-height:15px;color:#3a7bdc;font-weight:700;transform:scaleX(1.019);">US Retail Data</span>
<span class="t g" style="left:827.7px;top:139.00px;font-size:11.5px;line-height:16px;color:#808080;transform:scaleX(0.971);">retailTransactionsDB.</span>
<span class="t g" style="left:934.0px;top:140.00px;font-size:11px;line-height:15px;color:#333;-webkit-text-stroke:0.3px currentColor;transform:scaleX(1.064);">Movements</span>
<span class="t g" style="left:1107.1px;top:139.00px;font-size:11.5px;line-height:16px;color:#4a8fe0;transform:scaleX(0.983);">data</span>
<span class="t g" style="left:827.7px;top:167.00px;font-size:11.5px;line-height:16px;color:#808080;transform:scaleX(0.971);">retailTransactionsDB.</span>
<span class="t g" style="left:934.0px;top:168.00px;font-size:11px;line-height:15px;color:#333;-webkit-text-stroke:0.3px currentColor;transform:scaleX(1.071);">Orders</span>
<span class="t g" style="left:1107.1px;top:167.00px;font-size:11.5px;line-height:16px;color:#4a8fe0;transform:scaleX(0.983);">data</span>
<span class="t g" style="left:827.7px;top:195.00px;font-size:11.5px;line-height:16px;color:#808080;transform:scaleX(0.971);">retailTransactionsDB.</span>
<span class="t g" style="left:934.0px;top:196.00px;font-size:11px;line-height:15px;color:#333;-webkit-text-stroke:0.3px currentColor;transform:scaleX(0.990);">SKU</span>
<span class="t g" style="left:1107.1px;top:195.00px;font-size:11.5px;line-height:16px;color:#4a8fe0;transform:scaleX(0.983);">data</span>
<span class="t g" style="left:827.7px;top:223.00px;font-size:11.5px;line-height:16px;color:#808080;transform:scaleX(0.971);">retailTransactionsDB.</span>
<span class="t g" style="left:934.0px;top:224.00px;font-size:11px;line-height:15px;color:#6c63c8;-webkit-text-stroke:0.3px currentColor;transform:scaleX(1.090);">products</span>
<span class="t g" style="left:1107.1px;top:223.00px;font-size:11.5px;line-height:16px;color:#4a8fe0;transform:scaleX(0.983);">data</span>
<span class="t g" style="left:827.7px;top:247.00px;font-size:11.5px;line-height:16px;color:#555;transform:scaleX(0.945);">- SKU</span>
<span class="t g" style="left:1117.0px;top:247.00px;font-size:11.5px;line-height:16px;color:#777;font-style:italic;transform:scaleX(1.069);">int</span>
<span class="t g" style="left:827.7px;top:268.00px;font-size:11.5px;line-height:16px;color:#555;transform:scaleX(1.018);">- Department</span>
<span class="t g" style="left:1101.5px;top:268.00px;font-size:11.5px;line-height:16px;color:#777;font-style:italic;transform:scaleX(1.013);">string</span>
<span class="t g" style="left:827.7px;top:289.00px;font-size:11.5px;line-height:16px;color:#555;transform:scaleX(0.996);">- Division</span>
<span class="t g" style="left:1101.5px;top:289.00px;font-size:11.5px;line-height:16px;color:#777;font-style:italic;transform:scaleX(1.013);">string</span>
<span class="t g" style="left:827.7px;top:310.00px;font-size:11.5px;line-height:16px;color:#555;transform:scaleX(0.983);">- Section</span>
<span class="t g" style="left:1101.5px;top:310.00px;font-size:11.5px;line-height:16px;color:#777;font-style:italic;transform:scaleX(1.013);">string</span>
<span class="t g" style="left:827.7px;top:331.00px;font-size:11.5px;line-height:16px;color:#555;transform:scaleX(0.981);">- Subsection</span>
<span class="t g" style="left:1101.5px;top:331.00px;font-size:11.5px;line-height:16px;color:#777;font-style:italic;transform:scaleX(1.013);">string</span>
<span class="t g" style="left:827.7px;top:352.00px;font-size:11.5px;line-height:16px;color:#555;transform:scaleX(0.945);">- Size</span>
<span class="t g" style="left:1101.5px;top:352.00px;font-size:11.5px;line-height:16px;color:#777;font-style:italic;transform:scaleX(1.013);">string</span>
<span class="t g" style="left:827.7px;top:373.00px;font-size:11.5px;line-height:16px;color:#555;transform:scaleX(0.985);">- Color</span>
<span class="t g" style="left:1101.5px;top:373.00px;font-size:11.5px;line-height:16px;color:#777;font-style:italic;transform:scaleX(1.013);">string</span>
<span class="t g" style="left:827.7px;top:394.00px;font-size:11.5px;line-height:16px;color:#555;transform:scaleX(1.002);">- Brand</span>
<span class="t g" style="left:1101.5px;top:394.00px;font-size:11.5px;line-height:16px;color:#777;font-style:italic;transform:scaleX(1.013);">string</span>
<span class="t g" style="left:827.7px;top:415.00px;font-size:11.5px;line-height:16px;color:#555;transform:scaleX(0.956);">- Season</span>
<span class="t g" style="left:1101.5px;top:415.00px;font-size:11.5px;line-height:16px;color:#777;font-style:italic;transform:scaleX(1.013);">string</span>
<span class="t" style="left:204.6px;top:448.00px;font-size:11.5px;line-height:16px;color:#6c63c8;-webkit-text-stroke:0.3px currentColor;transform:scaleX(1.026);">Data &amp; Chart</span>
<span class="t" style="left:343.6px;top:440.00px;font-size:11.5px;line-height:16px;color:#7a70cb;transform:scaleX(0.967);">+ Custom Column</span>
<span class="t" style="left:447.3px;top:440.00px;font-size:11.5px;line-height:16px;color:#7a70cb;transform:scaleX(0.995);">Arrange &amp; Aggregate</span>
<span class="t" style="left:568.6px;top:440.00px;font-size:11.5px;line-height:16px;color:#7a70cb;transform:scaleX(0.953);">Rename Columns</span>
<span class="t" style="left:670.3px;top:440.00px;font-size:11.5px;line-height:16px;color:#7a70cb;transform:scaleX(0.969);">Count Rows</span>
<span class="t" style="left:745.4px;top:440.00px;font-size:11.5px;line-height:16px;color:#7a70cb;transform:scaleX(0.976);">Sort Rows</span>
<span class="t" style="left:811.2px;top:440.00px;font-size:11.5px;line-height:16px;color:#7a70cb;transform:scaleX(0.998);">Filter</span>
<span class="t" style="left:849.9px;top:440.00px;font-size:11.5px;line-height:16px;color:#7a70cb;transform:scaleX(0.939);">Join Queries</span>
<span class="t" style="left:924.5px;top:440.00px;font-size:11.5px;line-height:16px;color:#7a70cb;transform:scaleX(0.972);">Merge</span>
<span class="t" style="left:585.7px;top:455.00px;font-size:11.5px;line-height:16px;color:#7a70cb;transform:scaleX(0.961);">Query</span>
<span class="t" style="left:630.2px;top:455.00px;font-size:11.5px;line-height:16px;color:#7a70cb;transform:scaleX(0.963);">Union Queries</span>
<span class="t" style="left:1000.8px;top:448.00px;font-size:11.5px;line-height:16px;color:#333;transform:scaleX(0.970);">Auto Run</span>
<span class="t" style="left:1083.4px;top:448.00px;font-size:11.5px;line-height:16px;color:#fff;transform:scaleX(0.967);">Run Query</span>
<span class="t" style="left:198.4px;top:481.00px;font-size:11px;line-height:15px;color:#333;-webkit-text-stroke:0.3px currentColor;transform:scaleX(1.092);">Department</span>
<span class="t" style="left:275.2px;top:481.00px;font-size:11px;line-height:15px;color:#333;-webkit-text-stroke:0.3px currentColor;transform:scaleX(0.999);">Sales</span>
<span class="t" style="left:349.4px;top:481.00px;font-size:11px;line-height:15px;color:#333;-webkit-text-stroke:0.3px currentColor;transform:scaleX(1.003);">Cost</span>
<span class="t" style="left:423.2px;top:481.00px;font-size:11px;line-height:15px;color:#333;-webkit-text-stroke:0.3px currentColor;transform:scaleX(1.058);">Profit Percentage</span>
<span class="t" style="left:198.4px;top:501.00px;font-size:11.5px;line-height:16px;color:#3a3a3a;transform:scaleX(0.992);">Women</span>
<span class="t" style="left:275.2px;top:501.00px;font-size:11.5px;line-height:16px;color:#3a3a3a;transform:scaleX(1.028);">394142941</span>
<span class="t" style="left:349.4px;top:501.00px;font-size:11.5px;line-height:16px;color:#3a3a3a;transform:scaleX(1.032);">250520197</span>
<span class="t" style="left:423.2px;top:501.00px;font-size:11.5px;line-height:16px;color:#3a3a3a;transform:scaleX(0.997);">57.33</span>
<span class="t" style="left:198.4px;top:523.00px;font-size:11.5px;line-height:16px;color:#3a3a3a;transform:scaleX(0.943);">Men</span>
<span class="t" style="left:275.2px;top:523.00px;font-size:11.5px;line-height:16px;color:#3a3a3a;transform:scaleX(1.028);">504891638</span>
<span class="t" style="left:349.4px;top:523.00px;font-size:11.5px;line-height:16px;color:#3a3a3a;transform:scaleX(1.032);">298798902</span>
<span class="t" style="left:423.2px;top:523.00px;font-size:11.5px;line-height:16px;color:#3a3a3a;transform:scaleX(0.997);">68.97</span>
<span class="t" style="left:198.4px;top:545.00px;font-size:11.5px;line-height:16px;color:#3a3a3a;transform:scaleX(0.985);">Intimate</span>
<span class="t" style="left:275.2px;top:545.00px;font-size:11.5px;line-height:16px;color:#3a3a3a;transform:scaleX(1.040);">90664565</span>
<span class="t" style="left:349.4px;top:545.00px;font-size:11.5px;line-height:16px;color:#3a3a3a;transform:scaleX(1.032);">53096252</span>
<span class="t" style="left:423.2px;top:545.00px;font-size:11.5px;line-height:16px;color:#3a3a3a;transform:scaleX(0.997);">70.76</span>
<span class="t" style="left:198.4px;top:567.00px;font-size:11.5px;line-height:16px;color:#3a3a3a;transform:scaleX(0.930);">Kids</span>
<span class="t" style="left:275.2px;top:567.00px;font-size:11.5px;line-height:16px;color:#3a3a3a;transform:scaleX(1.028);">285087389</span>
<span class="t" style="left:349.4px;top:567.00px;font-size:11.5px;line-height:16px;color:#3a3a3a;transform:scaleX(1.032);">172415780</span>
<span class="t" style="left:423.2px;top:567.00px;font-size:11.5px;line-height:16px;color:#3a3a3a;transform:scaleX(0.997);">65.35</span>
<span class="t" style="left:780.7px;top:483.00px;font-size:11.5px;line-height:16px;color:#6c63c8;-webkit-text-stroke:0.3px currentColor;transform:scaleX(0.977);">Bar</span>
<span class="t g" style="left:872.0px;top:519.00px;font-size:12.3px;line-height:17px;color:#333;transform:scaleX(0.858);">Sales</span>
<span class="t g" style="left:922.1px;top:519.00px;font-size:12.3px;line-height:17px;color:#333;transform:scaleX(0.945);">Cost</span>
<span class="t g" style="left:969.5px;top:519.00px;font-size:12.3px;line-height:17px;color:#333;transform:scaleX(0.963);">Profit Percentage</span>
<span class="t g" style="left:816.3px;top:688.00px;font-size:11px;line-height:15px;color:#8a8a8a;transform:scaleX(0.920);">0</span>
<span class="t g" style="left:795.7px;top:660.00px;font-size:11px;line-height:15px;color:#8a8a8a;transform:scaleX(0.923);">100M</span>
<span class="t g" style="left:795.7px;top:631.00px;font-size:11px;line-height:15px;color:#8a8a8a;transform:scaleX(0.923);">200M</span>
<span class="t g" style="left:795.7px;top:603.00px;font-size:11px;line-height:15px;color:#8a8a8a;transform:scaleX(0.923);">300M</span>
<span class="t g" style="left:795.7px;top:574.00px;font-size:11px;line-height:15px;color:#8a8a8a;transform:scaleX(0.923);">400M</span>
<span class="t g" style="left:795.7px;top:546.00px;font-size:11px;line-height:15px;color:#8a8a8a;transform:scaleX(0.923);">500M</span>
<span class="t g" style="left:840.8px;top:699.00px;font-size:11px;line-height:15px;color:#9aa0aa;transform:scaleX(0.931);">Women</span>
<span class="t g" style="left:923.8px;top:699.00px;font-size:11px;line-height:15px;color:#9aa0aa;transform:scaleX(0.944);">Men</span>
<span class="t g" style="left:991.0px;top:699.00px;font-size:11px;line-height:15px;color:#9aa0aa;transform:scaleX(0.979);">Intimate</span>
<span class="t g" style="left:1076.3px;top:699.00px;font-size:11px;line-height:15px;color:#9aa0aa;transform:scaleX(0.920);">Kids</span>
</div>
</body></html>
